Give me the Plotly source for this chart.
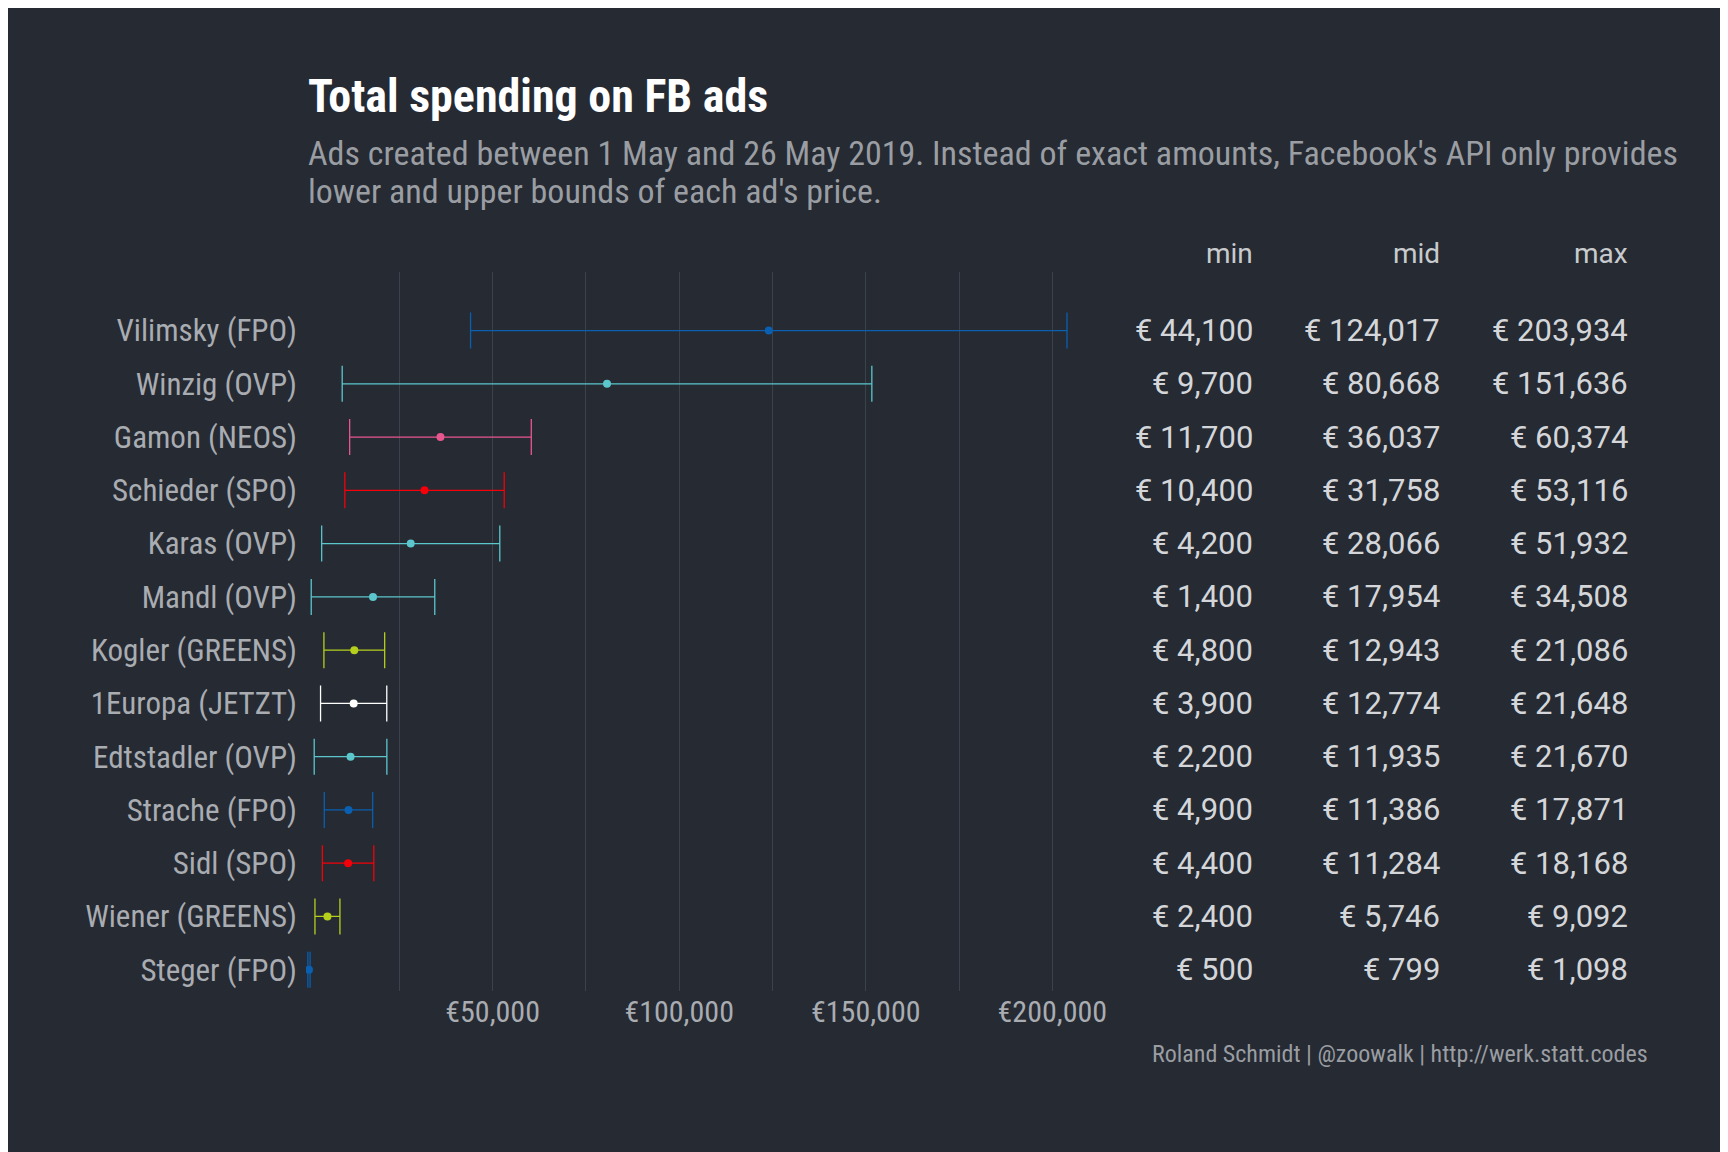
import plotly.graph_objects as go

candidates = ["Vilimsky (FPO)", "Winzig (OVP)", "Gamon (NEOS)", "Schieder (SPO)", "Karas (OVP)",
              "Mandl (OVP)", "Kogler (GREENS)", "1Europa (JETZT)", "Edtstadler (OVP)",
              "Strache (FPO)", "Sidl (SPO)", "Wiener (GREENS)", "Steger (FPO)"]
parties = ["FPO", "OVP", "NEOS", "SPO", "OVP", "OVP", "GREENS", "JETZT", "OVP", "FPO", "SPO", "GREENS", "FPO"]
min_spend = [44100, 9700, 11700, 10400, 4200, 1400, 4800, 3900, 2200, 4900, 4400, 2400, 500]
mid_spend = [124017, 80668, 36037, 31758, 28066, 17954, 12943, 12774, 11935, 11386, 11284, 5746, 799]
max_spend = [203934, 151636, 60374, 53116, 51932, 34508, 21086, 21648, 21670, 17871, 18168, 9092, 1098]

party_colors = {"FPO": "#0a5fb0", "OVP": "#5bc6cc", "NEOS": "#e8568f", "SPO": "#f4000a",
                "GREENS": "#b5cf1c", "JETZT": "#ffffff"}

BG = "#252a33"
COND = "Roboto Condensed, Liberation Sans Narrow, Roboto"
fig = go.Figure()

for i, name in enumerate(candidates):
    c = party_colors[parties[i]]
    fig.add_trace(go.Scatter(
        x=[mid_spend[i]], y=[name], mode="markers",
        marker=dict(color=c, size=8),
        error_x=dict(type="data", symmetric=False,
                     array=[max_spend[i] - mid_spend[i]],
                     arrayminus=[mid_spend[i] - min_spend[i]],
                     color=c, thickness=1.3, width=18),
        showlegend=False, hoverinfo="skip"))

# table columns
cols = [("min", min_spend, 0.706), ("mid", mid_spend, 0.845), ("max", max_spend, 0.985)]
for head, vals, xp in cols:
    fig.add_annotation(x=xp, y=1.0, xref="paper", yref="paper", text=head, showarrow=False,
                       xanchor="right", yanchor="bottom", font=dict(size=28, color="#c8cacd", family="Roboto"))
    for name, v in zip(candidates, vals):
        fig.add_annotation(x=xp, y=name, xref="paper", yref="y", text="€ {:,}".format(v),
                           showarrow=False, xanchor="right",
                           font=dict(size=31, color="#d4d6d9", family="Roboto"))

# title and subtitle
fig.add_annotation(x=0, y=1152 - 99, xref="paper", yref="paper", showarrow=False)
fig.layout.annotations = fig.layout.annotations[:-1]
fig.add_annotation(x=0, y=1.245, xref="paper", yref="paper", showarrow=False, xanchor="left", yanchor="middle",
                   text="<b>Total spending on FB ads</b>", font=dict(size=46, color="#ffffff", family=COND))
fig.add_annotation(x=0, y=1.165, xref="paper", yref="paper", showarrow=False, xanchor="left", yanchor="middle",
                   text="Ads created between 1 May and 26 May 2019. Instead of exact amounts, Facebook's API only provides",
                   font=dict(size=34, color="#9a9da2", family=COND))
fig.add_annotation(x=0, y=1.113, xref="paper", yref="paper", showarrow=False, xanchor="left", yanchor="middle",
                   text="lower and upper bounds of each ad's price.",
                   font=dict(size=34, color="#9a9da2", family=COND))

fig.add_annotation(x=1.0, y=-0.11, xref="paper", yref="paper", showarrow=False, xanchor="right",
                   text="Roland Schmidt | @zoowalk | http://werk.statt.codes",
                   font=dict(size=24, color="#9a9da2", family=COND))

fig.update_layout(
    width=1728, height=1152,
    paper_bgcolor=BG, plot_bgcolor=BG,
    margin=dict(l=298, r=86, t=264, b=169),
    font=dict(family=COND, color="#a9acb1"),
    xaxis=dict(domain=[0, 0.59], range=[0, 212500], tickvals=[50000, 100000, 150000, 200000],
               ticktext=["€50,000", "€100,000", "€150,000", "€200,000"],
               showgrid=False, zeroline=False, tickfont=dict(size=30, color="#a9acb1"),
               minor=dict(tick0=25000, dtick=25000, showgrid=True, gridcolor="#3c424c", gridwidth=1)),
    yaxis=dict(categoryorder="array", categoryarray=candidates[::-1], showgrid=False,
               tickfont=dict(size=31, color="#a9acb1"), ticklabelstandoff=8,
               range=[-0.4, len(candidates) - 1 + 1.1]),
)

fig.write_html("out.html")
